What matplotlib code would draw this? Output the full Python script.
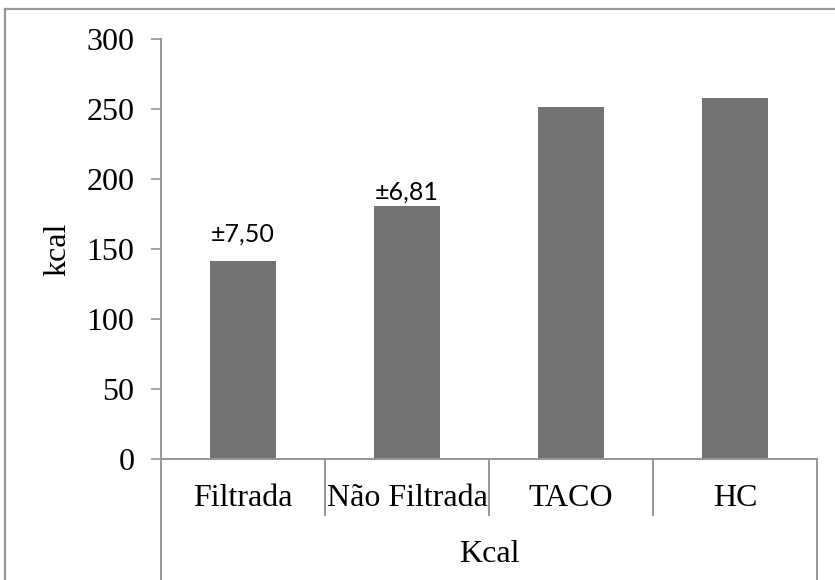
import matplotlib
matplotlib.use("Agg")
import matplotlib.pyplot as plt
from matplotlib.lines import Line2D
from matplotlib.transforms import blended_transform_factory

# Energy content per sample (kcal)
categories = ["Filtrada", "Não Filtrada", "TACO", "HC"]
kcal_values = [141.4, 180.7, 251.4, 257.9]
error_labels = ["±7,50", "±6,81", "", ""]
group_label = "Kcal"

# vertical label offsets above bars, in points
label_offsets = [11, 2, 0, 0]

BAR_COLOR = "#737373"
LINE_COLOR = "#969696"
SERIF = "Liberation Serif"

W, H = 835, 580
fig = plt.figure(figsize=(W / 100, H / 100), dpi=100)
fig.patch.set_facecolor("white")

# chart frame (only top and left edges are visible)
fig.add_artist(Line2D([5 / W, 5 / W], [0, 1 - 9 / H], color=LINE_COLOR, lw=1.6))
fig.add_artist(Line2D([5 / W, 1], [1 - 9 / H, 1 - 9 / H], color=LINE_COLOR, lw=1.6))

ax = fig.add_axes([161 / W, 1 - 459 / H, (817 - 161) / W, (459 - 39) / H])
x = list(range(len(categories)))
bars = ax.bar(x, kcal_values, width=0.4, color=BAR_COLOR)

ax.set_xlim(-0.5, len(categories) - 0.5)
ax.set_ylim(0, 300)
ax.set_yticks(range(0, 301, 50))
ax.tick_params(axis="y", direction="out", length=7.2, width=1.2,
               color=LINE_COLOR, pad=12, labelsize=23)
for lbl in ax.get_yticklabels():
    lbl.set_fontfamily(SERIF)

for side in ["top", "right"]:
    ax.spines[side].set_visible(False)
for side in ["left", "bottom"]:
    ax.spines[side].set_color(LINE_COLOR)
    ax.spines[side].set_linewidth(1.4)

# category labels and separators below the axis
ax.set_xticks([])
trans = blended_transform_factory(ax.transData, ax.transAxes)
for i, name in enumerate(categories):
    ax.text(i, -0.095, name, transform=trans, ha="center", va="center",
            fontsize=23, family=SERIF)
inner = [i + 0.5 for i in x[:-1]]
ax.vlines(inner, -0.136, 0, transform=trans, colors=LINE_COLOR, lw=1.4, clip_on=False)
ax.vlines([-0.5, len(categories) - 0.5], -0.3, 0, transform=trans,
          colors=LINE_COLOR, lw=1.4, clip_on=False)
ax.text(0.5, -0.228, group_label, transform=ax.transAxes, ha="center",
        va="center", fontsize=23, family=SERIF)

ax.set_ylabel("kcal", fontsize=23, family=SERIF, labelpad=10)

# standard deviation labels above the bars
for bar, text, off in zip(bars, error_labels, label_offsets):
    if not text:
        continue
    ax.annotate(text, (bar.get_x() + bar.get_width() / 2, bar.get_height()),
                xytext=(0, off), textcoords="offset points",
                ha="center", va="bottom", fontsize=18, family="Lato")

fig.savefig("out.png", dpi=100)
